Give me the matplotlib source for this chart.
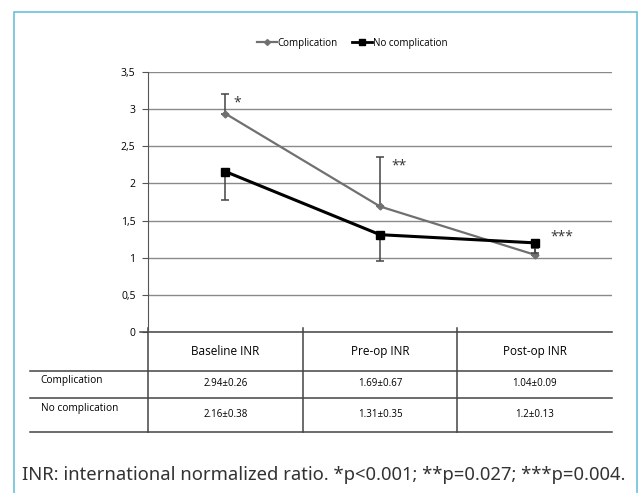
import numpy as np
import matplotlib.pyplot as plt
from matplotlib import transforms
from matplotlib.patches import Rectangle
from matplotlib.lines import Line2D

categories = ['Baseline INR', 'Pre-op INR', 'Post-op INR']
comp_mean = [2.94, 1.69, 1.04]
comp_sd = [0.26, 0.67, 0.09]
nocomp_mean = [2.16, 1.31, 1.2]
nocomp_sd = [0.38, 0.35, 0.13]
stars = ['*', '**', '***']
row_labels = ['Complication', 'No complication']
yticks = [0, 0.5, 1, 1.5, 2, 2.5, 3, 3.5]
ytick_labels = ['0', '0,5', '1', '1,5', '2', '2,5', '3', '3,5']
caption = 'INR: international normalized ratio. *p<0.001; **p=0.027; ***p=0.004.'

W, H = 643, 493
fig = plt.figure(figsize=(W / 100, H / 100), dpi=100)
plt.rcParams['font.family'] = ['Open Sans', 'DejaVu Sans']

# outer frame (light blue)
fig.patches.append(Rectangle((14 / W, -0.1), (637 - 14) / W, 1.1 - 12 / H,
                             transform=fig.transFigure, fill=False,
                             edgecolor='#6cc0dc', lw=1.2))

ax = fig.add_axes([148 / W, 1 - 332 / H, (612 - 148) / W, (332 - 72) / H])
x = np.arange(len(categories))
zeros = np.zeros(len(x))

comp_color = '#707070'
ax.errorbar(x, comp_mean, yerr=[zeros, comp_sd], color=comp_color, lw=1.6,
            marker='D', ms=3.5, capsize=3, elinewidth=1.1, ecolor='#444444',
            capthick=1.1, zorder=3)
ax.errorbar(x, nocomp_mean, yerr=[nocomp_sd, zeros], color='black', lw=2.2,
            marker='s', ms=5.5, capsize=3, elinewidth=1.1, ecolor='#444444',
            capthick=1.1, zorder=4)

# significance marks, placed next to the tops of the error bars
anchors = [comp_mean[0] + comp_sd[0], comp_mean[1] + comp_sd[1], nocomp_mean[2]]
offsets = [(6, -6), (8, -7), (11, 4)]
for i, s in enumerate(stars):
    ax.annotate(s, (x[i], anchors[i]), xytext=offsets[i], textcoords='offset points',
                fontsize=10, color='#333333', va='center', ha='left')

ax.set_xlim(-0.5, 2.5)
ax.set_ylim(0, 3.5)
ax.set_yticks(yticks)
ax.set_yticklabels(ytick_labels, fontsize=7.5)
ax.set_xticks([])
ax.grid(axis='y', color='#8a8a8a', lw=1)
ax.set_axisbelow(True)
for s in ['top', 'right', 'bottom']:
    ax.spines[s].set_visible(False)
ax.spines['left'].set_color('#555555')
ax.tick_params(axis='y', length=4, color='#555555', pad=5)

handles = [Line2D([], [], color=comp_color, lw=1.6, marker='D', ms=3),
           Line2D([], [], color='black', lw=2, marker='s', ms=5)]
ax.legend(handles, row_labels, loc='center', bbox_to_anchor=(0.44, 1.11), ncol=2,
          frameon=False, fontsize=7, handlelength=2.0, columnspacing=1.5,
          handletextpad=0.1)

# table under the axis
tr = transforms.blended_transform_factory(ax.transData, ax.transAxes)
left = -1.265
line_kw = dict(transform=tr, clip_on=False, color='#444444', lw=1.1)
ax.plot([-0.55, 2.5], [0, 0], **line_kw)
row_y = [-0.15, -0.254, -0.385]
for yy in row_y:
    ax.plot([left, 2.5], [yy, yy], **line_kw)
for xx in [-0.5, 0.5, 1.5]:
    ax.plot([xx, xx], [0.015, row_y[-1]], **line_kw)

for i, c in enumerate(categories):
    ax.text(x[i], -0.075, c, transform=tr, ha='center', va='center', fontsize=8.5)
    ax.text(x[i], -0.2, f'{comp_mean[i]}\u00b1{comp_sd[i]}', transform=tr,
            ha='center', va='center', fontsize=7)
    ax.text(x[i], -0.316, f'{nocomp_mean[i]}\u00b1{nocomp_sd[i]}', transform=tr,
            ha='center', va='center', fontsize=7)
ax.text(left + 0.07, -0.185, row_labels[0], transform=tr, ha='left', va='center', fontsize=7.3)
ax.text(left + 0.07, -0.296, row_labels[1], transform=tr, ha='left', va='center', fontsize=7.3)

fig.text(22 / W, 1 - 475 / H, caption, fontsize=13.3, color='#333333',
         ha='left', va='center', family=['Noto Sans', 'DejaVu Sans'])

fig.savefig('out.png', dpi=100)
